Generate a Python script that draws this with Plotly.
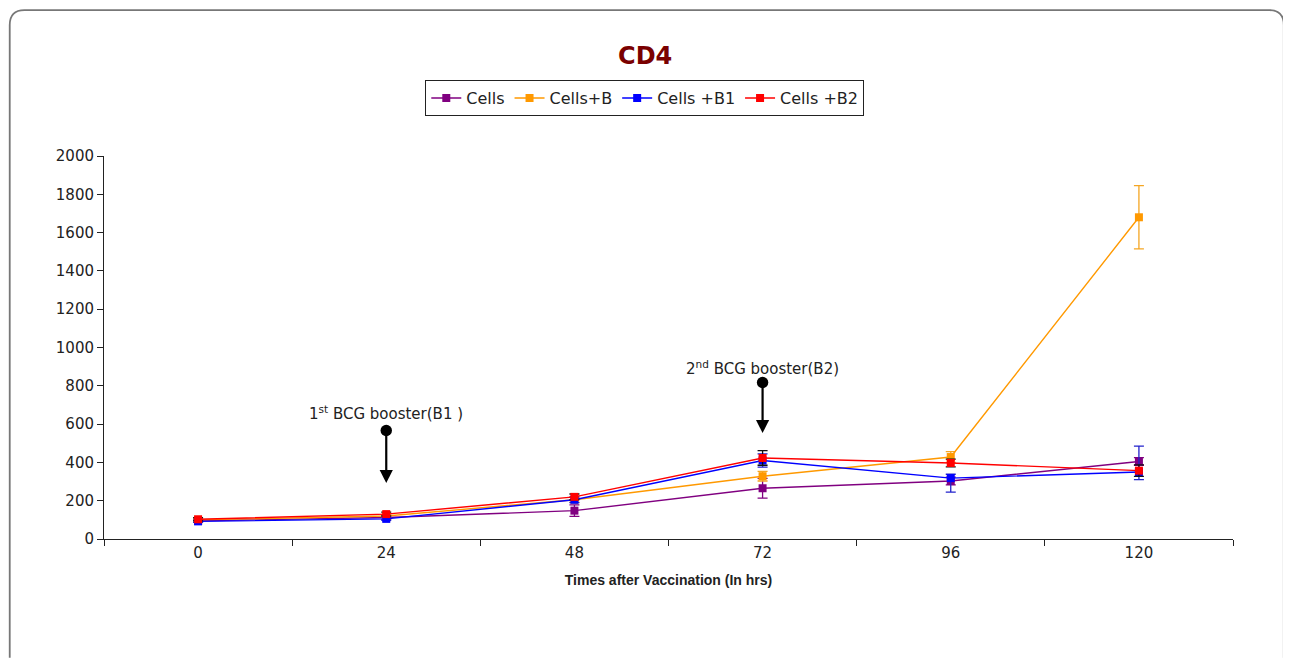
import plotly.graph_objects as go

times = ["0", "24", "48", "72", "96", "120"]
y_ticks = [0, 200, 400, 600, 800, 1000, 1200, 1400, 1600, 1800, 2000]

cells = [95, 112, 148, 265, 303, 405]
cells_err = [8, 10, 30, 52, 20, 20]

cells_b = [100, 120, 205, 328, 428, 1680]
cells_b_err = [5, 8, 12, 25, 28, 165]

cells_b1 = [92, 105, 205, 410, 318, 350]
cells_b1_err_plus = [5, 8, 15, 35, 20, 135]
cells_b1_err_minus = [5, 8, 15, 35, 73, 40]

cells_b2 = [103, 130, 220, 423, 397, 357]
cells_b2_err = [8, 10, 15, 38, 20, 30]

series = [
    ("Cells", cells, dict(type="data", array=cells_err, visible=True), "#800080", "#800080"),
    ("Cells+B", cells_b, dict(type="data", array=cells_b_err, visible=True), "#FF9900", "#F5A623"),
    ("Cells +B1", cells_b1, dict(type="data", array=cells_b1_err_plus, arrayminus=cells_b1_err_minus,
                                 symmetric=False, visible=True), "#0000FF", "#2222CC"),
    ("Cells +B2", cells_b2, dict(type="data", array=cells_b2_err, visible=True), "#FF0000", "#111111"),
]

fig = go.Figure()
for name, vals, err, col, ecol in series:
    err = dict(err, color=ecol, thickness=1.3, width=5)
    fig.add_trace(go.Scatter(
        x=times, y=vals, name=name, mode="lines+markers",
        line=dict(color=col, width=1.4),
        marker=dict(symbol="square", size=8, color=col),
        error_y=err,
    ))

fig.update_layout(
    width=1283, height=657,
    paper_bgcolor="white", plot_bgcolor="white",
    margin=dict(l=96, r=58, t=148, b=126),
    font=dict(family="DejaVu Sans", size=15, color="#222"),
    title=dict(text="<b>CD4</b>", x=0.4966, xanchor="center", y=0.928, yanchor="middle",
               font=dict(family="DejaVu Sans", size=24, color="#7A0000")),
    showlegend=True,
    legend=dict(orientation="h", x=0.479, xanchor="center", y=1.151, yanchor="middle",
                bordercolor="#222", borderwidth=1, bgcolor="white",
                font=dict(family="DejaVu Sans", size=16, color="#222"),
                itemwidth=30, tracegroupgap=0),
    xaxis=dict(type="category", categoryorder="array", categoryarray=times,
               range=[-0.5, 5.5], tickson="boundaries", ticks="outside", ticklen=6,
               tickcolor="#222", showline=True, linecolor="#222", linewidth=1,
               showgrid=False, zeroline=False,
               tickfont=dict(family="DejaVu Sans", size=15, color="#222"),
               title=dict(text="<b>Times after Vaccination (In hrs)</b>", standoff=14,
                          font=dict(family="Liberation Sans", size=14, color="#222"))),
    yaxis=dict(range=[0, 2000], tickvals=y_ticks, ticks="outside", ticklen=6,
               tickcolor="#222", showline=True, linecolor="#222", linewidth=1,
               showgrid=False, zeroline=False,
               tickfont=dict(family="DejaVu Sans", size=15, color="#222")),
)

# booster labels with arrows (circle at tail, arrowhead at the data position)
fig.add_annotation(x=1, y=292, ax=1, ay=658, xref="x", yref="y", axref="x", ayref="y",
                   text="1<sup>st</sup> BCG booster(B1 )",
                   font=dict(family="DejaVu Sans", size=15, color="#222"),
                   showarrow=True, arrowhead=2, arrowsize=1.2, arrowwidth=2.2,
                   arrowcolor="black", arrowside="end+start", startarrowhead=6,
                   startarrowsize=1.3, startstandoff=6)
fig.add_annotation(x=3, y=553, ax=3, ay=893, xref="x", yref="y", axref="x", ayref="y",
                   text="2<sup>nd</sup> BCG booster(B2)",
                   font=dict(family="DejaVu Sans", size=15, color="#222"),
                   showarrow=True, arrowhead=2, arrowsize=1.2, arrowwidth=2.2,
                   arrowcolor="black", arrowside="end+start", startarrowhead=6,
                   startarrowsize=1.3, startstandoff=3)

# rounded outer frame
x0, x1, y0, y1 = -0.0835, 1.045, -0.31, 1.381
rx, ry = 0.013, 0.039
path = (f"M {x0},{y0} L {x0},{y1-ry} Q {x0},{y1} {x0+rx},{y1} "
        f"L {x1-rx},{y1} Q {x1},{y1} {x1},{y1-ry} L {x1},{y0}")
fig.add_shape(type="path", path=path, xref="paper", yref="paper",
              line=dict(color="#777777", width=1.8))

fig.write_html("out.html")
